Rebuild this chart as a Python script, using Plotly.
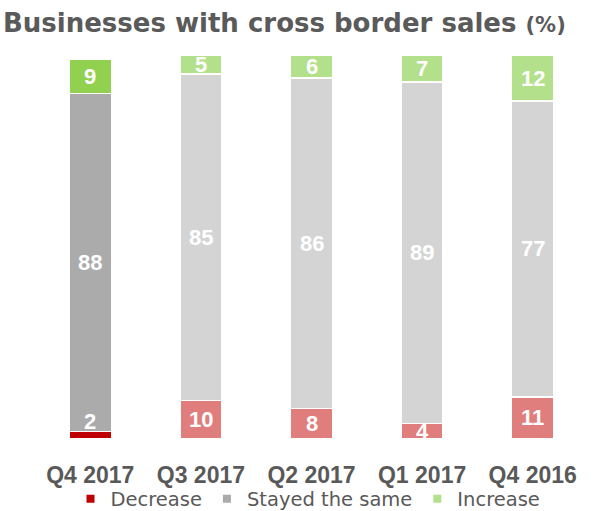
import plotly.graph_objects as go

categories = ["Q4 2017", "Q3 2017", "Q2 2017", "Q1 2017", "Q4 2016"]
decrease = [2, 10, 8, 4, 11]
same = [88, 85, 86, 89, 77]
increase = [9, 5, 6, 7, 12]

series_names = ["Decrease", "Stayed the same", "Increase"]
dark_colors = ["#C00000", "#ABABAB", "#92D050"]
light_colors = ["#E07D7D", "#D4D4D4", "#B3E08A"]
legend_colors = ["#C00000", "#ABABAB", "#B3E08A"]

series_values = [decrease, same, increase]

fig = go.Figure()
for name, vals, dc, lc in zip(series_names, series_values, dark_colors, light_colors):
    colors = [dc] + [lc] * (len(categories) - 1)
    fig.add_trace(go.Bar(
        x=categories, y=vals, name=name, showlegend=False,
        marker=dict(color=colors, line=dict(color="white", width=1.5)),
        hoverinfo="x+y+name",
    ))

for name, col in zip(series_names, legend_colors):
    fig.add_trace(go.Scatter(
        x=[None], y=[None], mode="markers", name=name,
        marker=dict(symbol="square", size=8, color=col),
    ))

annotations = []
for i, cat in enumerate(categories):
    base = 0
    for vals in series_values:
        v = vals[i]
        y = base + v / 2 if v >= 3 else base + v + 2.5
        annotations.append(dict(
            x=cat, y=y, xref="x", yref="y", text=str(v), showarrow=False,
            font=dict(family="Liberation Sans, Arial", size=22, color="white", weight="bold"),
            xanchor="center", yanchor="middle",
        ))
        base += v

fig.update_layout(
    width=598, height=511,
    margin=dict(l=35, r=10, t=55, b=72),
    paper_bgcolor="white", plot_bgcolor="white",
    barmode="stack", bargap=0.62,
    title=dict(
        text="<b>Businesses with cross border sales </b><b><span style='font-size:21px'>(%)</span></b>",
        x=3 / 598, xanchor="left", xref="container",
        y=1 - 23 / 511, yanchor="middle", yref="container",
        pad=dict(l=0, r=0, t=0, b=0),
        font=dict(family="DejaVu Sans", size=26, color="#5A5A5A"),
    ),
    xaxis=dict(
        showline=False, ticks="", showgrid=False, zeroline=False,
        tickfont=dict(family="Liberation Sans, Arial", size=23, color="#595959", weight="bold"),
        ticklabelstandoff=20, automargin=False,
        range=[-0.5, 4.5],
    ),
    yaxis=dict(range=[0, 100], visible=False, automargin=False),
    legend=dict(
        orientation="h", x=308 / 598, xanchor="center", xref="container",
        y=12 / 511, yanchor="middle", yref="container",
        traceorder="normal",
        font=dict(family="DejaVu Sans", size=19.5, color="#595959"),
        itemwidth=30, bgcolor="rgba(0,0,0,0)",
    ),
    annotations=annotations,
    showlegend=True,
)

fig.write_html(
    "out.html",
    config={"displayModeBar": False},
    post_script="document.body.style.margin='0px';document.body.style.overflow='hidden';",
)
